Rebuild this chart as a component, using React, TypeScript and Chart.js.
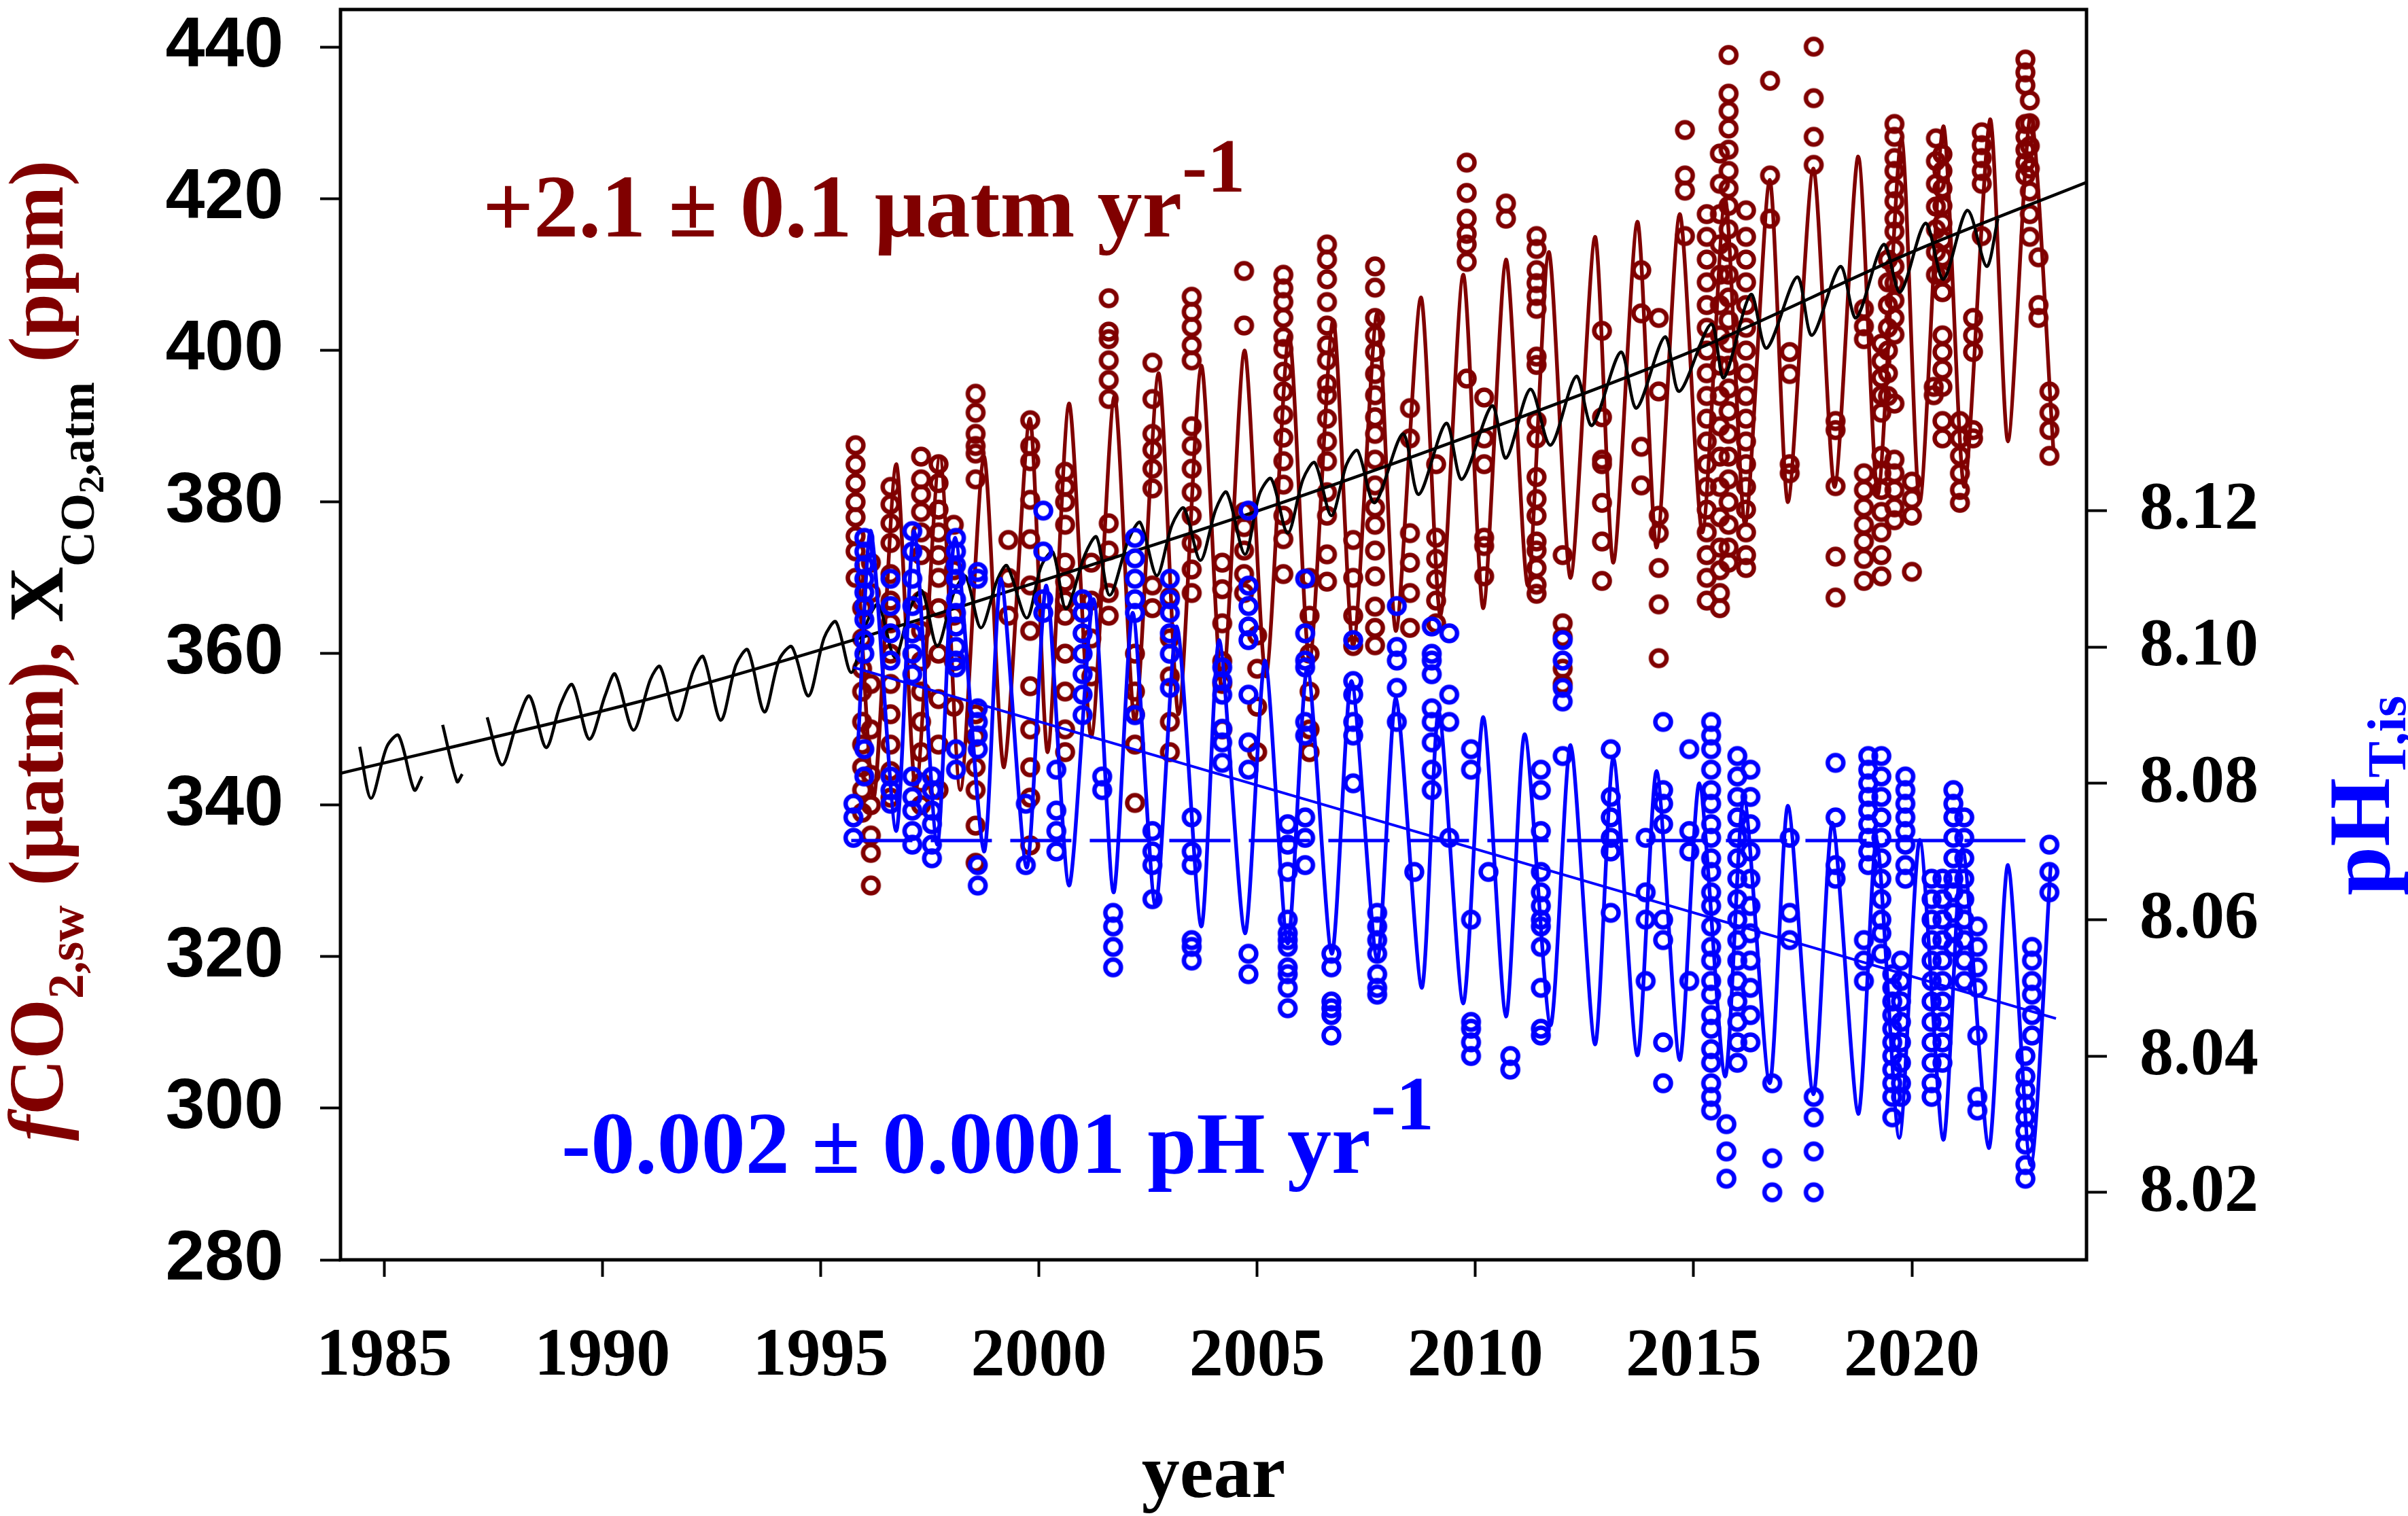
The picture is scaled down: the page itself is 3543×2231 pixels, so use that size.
import { useEffect, useRef } from "react";
import { Chart, registerables } from "chart.js";

Chart.register(...registerables);

const BROWN = "#800000";
const BLUE = "#0000ff";
const SERIF = '"Liberation Serif", "Times New Roman", serif';
const SANS = '"Liberation Sans", Arial, sans-serif';

// tick labels
const yearTicks = [1985, 1990, 1995, 2000, 2005, 2010, 2015, 2020];
const fco2Ticks = [280, 300, 320, 340, 360, 380, 400, 420, 440];
const phTicks = [8.02, 8.04, 8.06, 8.08, 8.1, 8.12];

// atmospheric xCO2 (ppm), seasonal record, null = gap
const xco2Seasonal: ([number, number] | null)[] = [
  [1984.44, 347.7], [1984.7, 340.9], [1985.06, 347.7], [1985.33, 349.2], [1985.69, 342.0], [1985.87, 343.8],
  null,
  [1986.34, 350.6], [1986.67, 343.1], [1986.79, 344.1],
  null,
  [1987.36, 351.6], [1987.7, 345.3], [1988.05, 351.0], [1988.33, 354.4], [1988.71, 347.6], [1989.04, 353.3],
  [1989.31, 355.9], [1989.7, 348.7], [1990.07, 354.6], [1990.29, 357.3], [1990.71, 349.9], [1991.1, 356.6],
  [1991.32, 358.3], [1991.71, 351.2], [1992.08, 357.7], [1992.31, 359.6], [1992.71, 351.2], [1993.06, 358.5],
  [1993.33, 360.5], [1993.71, 352.3], [1994.05, 359.2], [1994.34, 360.9], [1994.72, 354.4], [1995.08, 362.1],
  [1995.35, 364.2], [1995.7, 357.5], [1996.05, 364.0], [1996.32, 366.5], [1996.7, 359.5], [1997.05, 366.0],
  [1997.32, 368.3], [1997.67, 361.0], [1998.05, 368.0], [1998.32, 370.2], [1998.67, 363.4], [1999.05, 369.8],
  [1999.27, 371.6], [1999.72, 364.7], [2000.05, 371.5], [2000.32, 373.4], [2000.62, 365.9], [2001.05, 373.0],
  [2001.32, 375.4], [2001.62, 367.7], [2002.05, 375.0], [2002.32, 377.3], [2002.7, 370.3], [2003.05, 377.0],
  [2003.32, 379.2], [2003.7, 372.3], [2004.05, 379.0], [2004.3, 381.3], [2004.72, 373.1], [2005.05, 381.0],
  [2005.32, 383.1], [2005.7, 375.9], [2006.05, 383.0], [2006.32, 385.2], [2006.7, 378.2], [2007.05, 385.0],
  [2007.3, 386.8], [2007.69, 379.9], [2008.34, 389.0], [2008.7, 381.0], [2009.33, 390.4], [2009.69, 383.0],
  [2010.38, 392.7], [2010.7, 385.8], [2011.26, 394.9], [2011.72, 387.5], [2012.31, 396.6], [2012.67, 390.1],
  [2013.33, 399.8], [2013.69, 392.4], [2014.34, 401.8], [2014.67, 394.6], [2015.4, 403.5], [2015.69, 396.4],
  [2016.31, 407.4], [2016.67, 400.3], [2017.37, 409.7], [2017.71, 402.0], [2018.36, 411.1], [2018.72, 404.3],
  [2019.35, 414.0], [2019.73, 407.7], [2020.31, 416.8], [2020.72, 409.4], [2021.27, 418.5], [2021.71, 411.1],
  [2021.97, 417.4],
];

// deseasonalised xCO2 trend
const xco2Trend: [number, number][] = [
  [1984.0, 344.2], [1990.8, 353.6], [1995.75, 361.8], [2000, 369.5], [2005, 378.8],
  [2010, 389.0], [2015, 400.0], [2020, 413.0], [2024, 422.2],
];

// seawater fCO2 (µatm) observations per cruise: [year, values]
const fco2Samples: [number, number[]][] = [
  [1995.8, [387.5, 385, 382.5, 380, 378, 375.5, 373.5, 370]],
  [1995.95, [366, 362, 358, 355, 351, 348, 345, 342, 339]],
  [1996.15, [372, 368, 356, 350, 344, 340, 336, 333.7, 329.4]],
  [1996.6, [382, 379.7, 377.2, 374.6, 370.5, 367, 364, 360, 356, 352, 348, 344.5, 341]],
  [1997.3, [386, 383, 381, 378.7, 376, 373, 367, 363, 359, 355, 351, 347, 343, 340]],
  [1997.7, [385, 382.5, 379, 376, 373, 370, 366, 360, 354, 348, 342]],
  [1998.05, [377, 371, 365, 359, 353]],
  [1998.55, [394.3, 391.8, 389, 387.4, 386.4, 383, 352, 349, 345, 342, 337.3, 332.4]],
  [1999.3, [375, 370, 365]],
  [1999.8, [390.8, 387.4, 385.4, 380.3, 375.1, 369, 363, 355.7, 350, 345, 341, 334.7]],
  [2000.6, [384, 382, 380, 377, 372, 369.5, 367, 365, 360, 355, 350, 347]],
  [2001.2, [372, 367, 362, 357]],
  [2001.6, [406.9, 402.5, 401.5, 398.7, 396.1, 393.6, 377.2, 373.6, 368, 365]],
  [2002.2, [360, 355, 352, 348, 340.3]],
  [2002.6, [398.4, 393.6, 389, 386.9, 384.4, 381.8, 369, 366]],
  [2003.0, [367.5, 362, 357, 351, 347]],
  [2003.5, [407.1, 405.1, 403.1, 400.7, 398.7, 390, 387.4, 384.4, 381.3, 378.2, 374.6, 371.1, 368]],
  [2004.2, [372, 368.5, 364, 359, 356, 350]],
  [2004.7, [410.5, 403.3, 378.7, 376.7, 373.6, 370.5, 368]],
  [2005.0, [362.4, 358, 353, 347]],
  [2005.6, [410, 408.2, 406.4, 404.3, 401.8, 400.2, 397.2, 394.6, 391.5, 388.5, 385.4, 382.3, 378.2, 375.1, 370.5]],
  [2006.2, [370, 365, 360, 355, 350, 347]],
  [2006.6, [414, 412, 409.4, 406.4, 403.3, 400.7, 398.7, 395.6, 394.1, 391, 388, 385.4, 381.3, 378.2, 373.1, 369.5]],
  [2007.2, [375, 370, 365, 361]],
  [2007.7, [411.1, 408.3, 404.3, 402, 399.8, 396.9, 394.1, 391.2, 389, 385.6, 382.2, 379.3, 377, 373.6, 370.2, 366.2, 363.4, 361.1]],
  [2008.5, [392.4, 388.4, 375.9, 372, 368, 363.4]],
  [2009.1, [385, 375.3, 372.5, 369.8, 367, 364]],
  [2009.8, [424.8, 420.8, 417.4, 415.4, 414, 411.7, 396.3]],
  [2010.2, [393.8, 388.4, 385, 375.3, 374.2, 370.2]],
  [2010.7, [419.4, 417.4]],
  [2011.4, [415.1, 413.4, 410.6, 408.9, 407.2, 405.5, 399.2, 398.1, 390.7, 388.4, 383.3, 380.4, 378.2, 374.8, 373.6, 371.3, 369.1, 367.9]],
  [2012.0, [373, 364, 362.2, 358, 356]],
  [2012.9, [402.6, 391.2, 385.6, 385, 379.9, 374.8, 369.6]],
  [2013.8, [410.6, 404.9, 387.3, 382.2]],
  [2014.2, [404.3, 394.6, 378.2, 375.9, 371.3, 366.5, 359.4]],
  [2014.8, [429.1, 423.1, 421.1, 415.1]],
  [2015.3, [418, 415, 412, 409, 406, 403, 400, 397, 394, 391, 388, 385, 382, 379, 376, 373, 370, 367]],
  [2015.6, [426, 422, 418, 414, 410, 406, 402, 398, 394, 390, 386, 382, 378, 374, 371, 368, 366]],
  [2015.8, [439, 433.9, 431.6, 429.3, 426.5, 423.7, 421.4, 419.1, 416, 413, 410, 407, 404, 401, 398, 395, 392, 389, 386, 383, 380, 377, 374, 372]],
  [2016.2, [418.5, 415, 412, 409, 406, 403, 400, 397, 394, 391, 388, 385, 382, 379, 376, 373, 371.3]],
  [2016.75, [435.6, 423.1, 417.4]],
  [2017.2, [399.8, 396.9, 385, 383.8]],
  [2017.75, [440.1, 433.3, 428.2, 424.5]],
  [2018.25, [390.7, 389.5, 382.1, 372.8, 367.4]],
  [2018.9, [405.5, 403.2, 401.5, 383.8, 381.6, 379.3, 377, 374.8, 372.5, 369.6]],
  [2019.3, [400.9, 398.6, 396.4, 394.1, 391.8, 386.1, 383.8, 381.6, 378.7, 376, 373, 370.2]],
  [2019.45, [412, 409, 406, 403, 400, 397, 394]],
  [2019.6, [429.9, 428.2, 425.4, 423.7, 421.4, 419.7, 417.4, 415.7, 413.4, 411.1, 408.9, 406.6, 404.3, 402.1, 393, 385.6, 383.8, 381.6, 379.3, 377.6]],
  [2020.0, [382.7, 380.4, 378.2, 370.8]],
  [2020.5, [395.2, 394.1]],
  [2020.55, [428, 425, 422, 419, 416, 413, 410]],
  [2020.7, [425.9, 423.7, 421.4, 419.1, 416.8, 414.6, 412.3, 410, 407.7, 402, 399.8, 397.5, 395.2, 390.7, 388.4]],
  [2021.1, [390.7, 388.4, 386.1, 383.8, 381.6, 379.9]],
  [2021.4, [404.3, 402, 399.8, 389.5, 388.4]],
  [2021.6, [428.8, 427.1, 425.4, 423.7, 422, 415.1]],
  [2022.6, [438.4, 436.7, 435, 429.9, 428.2, 426.5, 424.8, 423.1]],
  [2022.7, [433, 430, 427, 424, 421, 418, 415]],
  [2022.9, [412.3, 406, 404.3]],
  [2023.15, [394.6, 391.8, 389.5, 386.1]],
];

// fitted seasonal fCO2 curve
const fco2Model: [number, number][] = [
  [1995.85, 372], [1996.22, 341], [1996.73, 385], [1997.18, 342], [1997.73, 386], [1998.2, 342],
  [1998.74, 386], [1999.2, 345], [1999.79, 391], [2000.2, 347], [2000.69, 393], [2001.2, 349],
  [2001.73, 394], [2002.2, 351], [2002.74, 397], [2003.2, 352], [2003.72, 398], [2004.2, 355],
  [2004.71, 400], [2005.2, 357], [2005.73, 402], [2006.2, 359], [2006.74, 404], [2007.2, 361],
  [2007.75, 405], [2008.18, 363], [2008.75, 407], [2009.2, 365], [2009.72, 410], [2010.18, 366],
  [2010.7, 412], [2011.2, 369], [2011.68, 413], [2012.18, 370], [2012.74, 415], [2013.16, 372],
  [2013.71, 417], [2014.15, 374], [2014.68, 418], [2015.2, 376], [2015.72, 420], [2016.18, 377],
  [2016.74, 422.5], [2017.16, 380], [2017.74, 424], [2018.23, 382], [2018.77, 425.6], [2019.22, 381],
  [2019.76, 428], [2020.18, 380], [2020.72, 429.6], [2021.2, 382], [2021.79, 430.5], [2022.2, 388],
  [2022.72, 431], [2023.24, 387],
];

// pH(T, in situ) observations per cruise: [year, values]
const phSamples: [number, number[]][] = [
  [1995.75, [8.077, 8.075, 8.072]],
  [1996.0, [8.116, 8.114, 8.112, 8.11, 8.108, 8.106, 8.104, 8.101, 8.099, 8.085, 8.081]],
  [1996.6, [8.11, 8.106, 8.102, 8.098, 8.081, 8.079, 8.077]],
  [1997.1, [8.117, 8.114, 8.11, 8.106, 8.102, 8.099, 8.096, 8.081, 8.078, 8.076, 8.073, 8.071]],
  [1997.55, [8.081, 8.079, 8.076, 8.074, 8.071, 8.069]],
  [1998.1, [8.116, 8.114, 8.112, 8.11, 8.107, 8.105, 8.103, 8.1, 8.098, 8.097, 8.085, 8.082]],
  [1998.6, [8.111, 8.11, 8.091, 8.089, 8.087, 8.085, 8.068, 8.065]],
  [1999.7, [8.077, 8.068]],
  [2000.1, [8.12, 8.114, 8.107, 8.105]],
  [2000.4, [8.082, 8.076, 8.073, 8.07]],
  [2001.0, [8.107, 8.105, 8.102, 8.099, 8.096, 8.093, 8.09]],
  [2001.45, [8.081, 8.079]],
  [2001.7, [8.061, 8.059, 8.056, 8.053]],
  [2002.2, [8.116, 8.113, 8.11, 8.107, 8.105, 8.09]],
  [2002.6, [8.073, 8.07, 8.068, 8.063]],
  [2003.0, [8.11, 8.107, 8.105, 8.102, 8.099, 8.094]],
  [2003.5, [8.075, 8.07, 8.068, 8.057, 8.056, 8.054]],
  [2004.2, [8.097, 8.095, 8.093, 8.088, 8.086, 8.083]],
  [2004.8, [8.12, 8.109, 8.106, 8.103, 8.101, 8.093, 8.086, 8.082, 8.055, 8.052]],
  [2005.7, [8.074, 8.071, 8.067, 8.06, 8.058, 8.057, 8.056, 8.053, 8.052, 8.05, 8.047]],
  [2006.1, [8.11, 8.102, 8.098, 8.097, 8.089, 8.087, 8.075, 8.072, 8.068]],
  [2006.7, [8.055, 8.053, 8.048, 8.047, 8.046, 8.043]],
  [2007.2, [8.101, 8.095, 8.093, 8.089, 8.087, 8.08]],
  [2007.75, [8.061, 8.059, 8.057, 8.055, 8.052, 8.05, 8.049]],
  [2008.2, [8.106, 8.1, 8.098, 8.094, 8.089]],
  [2008.6, [8.067]],
  [2009.0, [8.103, 8.099, 8.098, 8.096, 8.091, 8.089, 8.086, 8.082, 8.079]],
  [2009.4, [8.102, 8.093, 8.089, 8.072]],
  [2009.9, [8.085, 8.082, 8.06, 8.045, 8.044, 8.042, 8.04]],
  [2010.3, [8.067]],
  [2010.8, [8.04, 8.038]],
  [2011.5, [8.082, 8.079, 8.073, 8.067, 8.064, 8.062, 8.06, 8.059, 8.056, 8.05, 8.044, 8.043]],
  [2012.0, [8.101, 8.098, 8.094, 8.092, 8.084]],
  [2013.1, [8.085, 8.078, 8.075, 8.072, 8.07, 8.061]],
  [2013.9, [8.072, 8.064, 8.06, 8.051]],
  [2014.3, [8.089, 8.079, 8.077, 8.074, 8.06, 8.057, 8.042, 8.036]],
  [2014.9, [8.085, 8.073, 8.07, 8.051]],
  [2015.4, [8.089, 8.087, 8.085, 8.082, 8.079, 8.077, 8.074, 8.072, 8.069, 8.067, 8.064, 8.062, 8.059, 8.056, 8.054, 8.051, 8.049, 8.046, 8.044, 8.041, 8.039, 8.036, 8.034, 8.032]],
  [2015.75, [8.026, 8.022, 8.03]],
  [2016.0, [8.084, 8.081, 8.078, 8.075, 8.072, 8.069, 8.066, 8.063, 8.06, 8.057, 8.054, 8.051, 8.048, 8.045, 8.042, 8.039]],
  [2016.3, [8.082, 8.078, 8.074, 8.07, 8.066, 8.062, 8.058, 8.054, 8.05, 8.046, 8.042]],
  [2016.8, [8.036, 8.025, 8.02]],
  [2017.2, [8.072, 8.061, 8.057]],
  [2017.75, [8.034, 8.031, 8.026, 8.02]],
  [2018.25, [8.083, 8.075, 8.068, 8.066]],
  [2018.9, [8.057, 8.054, 8.051]],
  [2019.0, [8.084, 8.082, 8.08, 8.078, 8.076, 8.074, 8.072, 8.07, 8.068]],
  [2019.3, [8.084, 8.081, 8.078, 8.075, 8.072, 8.069, 8.066, 8.063, 8.06, 8.058, 8.055]],
  [2019.55, [8.052, 8.05, 8.048, 8.046, 8.044, 8.042, 8.04, 8.038, 8.036, 8.034, 8.031]],
  [2019.75, [8.054, 8.051, 8.048, 8.045, 8.042, 8.039, 8.036, 8.034]],
  [2019.85, [8.081, 8.079, 8.077, 8.075, 8.073, 8.071, 8.068, 8.066]],
  [2020.45, [8.066, 8.063, 8.06, 8.057, 8.054, 8.051, 8.048, 8.045, 8.042, 8.039, 8.036, 8.034]],
  [2020.7, [8.066, 8.063, 8.06, 8.057, 8.054, 8.051, 8.048, 8.045, 8.042, 8.039]],
  [2020.95, [8.079, 8.077, 8.075, 8.072, 8.069, 8.066, 8.064, 8.061, 8.058, 8.056]],
  [2021.2, [8.075, 8.072, 8.069, 8.066, 8.063, 8.06, 8.057, 8.054, 8.051]],
  [2021.5, [8.059, 8.056, 8.053, 8.05, 8.043, 8.034, 8.032]],
  [2022.6, [8.04, 8.037, 8.035, 8.033, 8.031, 8.029, 8.027, 8.024, 8.022]],
  [2022.75, [8.056, 8.054, 8.051, 8.049, 8.046, 8.043]],
  [2023.15, [8.071, 8.067, 8.064]],
];

// fitted seasonal pH curve
const phModel: [number, number][] = [
  [1995.85, 8.085], [1996.15, 8.117], [1996.73, 8.073], [1997.14, 8.117], [1997.67, 8.071], [1998.08, 8.116],
  [1998.74, 8.07], [1999.13, 8.11], [1999.72, 8.0676], [2000.17, 8.109], [2000.69, 8.065], [2001.25, 8.107],
  [2001.71, 8.064], [2002.15, 8.105], [2002.67, 8.062], [2003.16, 8.103], [2003.72, 8.059], [2004.13, 8.101],
  [2004.72, 8.058], [2005.18, 8.098], [2005.7, 8.0565], [2006.15, 8.097], [2006.71, 8.055], [2007.16, 8.095],
  [2007.75, 8.054], [2008.18, 8.0925], [2008.77, 8.05], [2009.16, 8.0906], [2009.72, 8.0477], [2010.18, 8.0897],
  [2010.7, 8.0458], [2011.13, 8.0872], [2011.72, 8.0445], [2012.18, 8.0856], [2012.74, 8.0417], [2013.16, 8.0837],
  [2013.71, 8.0401], [2014.15, 8.0818], [2014.68, 8.0394], [2015.13, 8.08], [2015.72, 8.037], [2016.15, 8.078],
  [2016.74, 8.036], [2017.16, 8.0767], [2017.74, 8.0344], [2018.18, 8.0742], [2018.77, 8.0315], [2019.19, 8.0717],
  [2019.71, 8.028], [2020.18, 8.0717], [2020.72, 8.0277], [2021.16, 8.0704], [2021.76, 8.0265], [2022.2, 8.068],
  [2022.72, 8.024], [2023.18, 8.068],
];

const phTrend: [number, number][] = [[1995.75, 8.097], [2023.3, 8.0455]];
const phMean: [number, number][] = [[1995.7, 8.0716], [2022.6, 8.0716]];

const toXY = (pts: [number, number][]) => pts.map(([x, y]) => ({ x, y }));
const samplesToXY = (s: [number, number[]][]) =>
  s.flatMap(([x, vals]) => vals.map((y) => ({ x, y })));

function ring(color: string) {
  const c = document.createElement("canvas");
  c.width = 38;
  c.height = 38;
  const g = c.getContext("2d")!;
  g.strokeStyle = color;
  g.lineWidth = 6.5;
  g.beginPath();
  g.arc(19, 19, 11.5, 0, Math.PI * 2);
  g.stroke();
  return c;
}

type Run = { text: string; size: number; color: string; dy?: number; italic?: boolean };

function drawRuns(ctx: CanvasRenderingContext2D, runs: Run[], x: number, y: number) {
  let cx = x;
  for (const r of runs) {
    ctx.font = `${r.italic ? "italic " : ""}bold ${r.size}px ${SERIF}`;
    ctx.fillStyle = r.color;
    ctx.fillText(r.text, cx, y + (r.dy ?? 0));
    cx += ctx.measureText(r.text).width;
  }
}

const labelsPlugin = {
  id: "labels",
  afterDatasetsDraw(chart: Chart) {
    const { ctx, chartArea } = chart;
    ctx.save();
    // frame
    ctx.strokeStyle = "#000";
    ctx.lineWidth = 5;
    ctx.strokeRect(chartArea.left, chartArea.top, chartArea.right - chartArea.left, chartArea.bottom - chartArea.top);

    ctx.textAlign = "left";
    ctx.textBaseline = "alphabetic";

    // in-plot rate annotations
    drawRuns(ctx, [
      { text: "+2.1 ± 0.1 μatm yr", size: 132, color: BROWN },
      { text: "-1", size: 112, color: BROWN, dy: -66 },
    ], 710, 348);
    drawRuns(ctx, [
      { text: "-0.002 ± 0.0001 pH yr", size: 130, color: BLUE },
      { text: "-1", size: 112, color: BLUE, dy: -64 },
    ], 826, 1726);

    // left axis title
    ctx.save();
    ctx.translate(92, 1679);
    ctx.rotate(-Math.PI / 2);
    drawRuns(ctx, [
      { text: "f", size: 114, color: BROWN, italic: true },
      { text: "CO", size: 114, color: BROWN },
      { text: "2,sw", size: 74, color: BROWN, dy: 30 },
      { text: " (μatm),", size: 114, color: BROWN },
      { text: " X", size: 114, color: "#000" },
      { text: "CO", size: 72, color: "#000", dy: 46 },
      { text: "2", size: 52, color: "#000", dy: 60 },
      { text: ",atm", size: 72, color: "#000", dy: 46 },
      { text: " (ppm)", size: 114, color: BROWN },
    ], 0, 0);
    ctx.restore();

    // right axis title
    ctx.save();
    ctx.translate(3515, 1318);
    ctx.rotate(-Math.PI / 2);
    drawRuns(ctx, [
      { text: "pH", size: 130, color: BLUE },
      { text: "T,is", size: 80, color: BLUE, dy: 24 },
    ], 0, 0);
    ctx.restore();

    // x axis title
    ctx.font = `bold 112px ${SERIF}`;
    ctx.fillStyle = "#000";
    ctx.textAlign = "center";
    ctx.fillText("year", (chartArea.left + chartArea.right) / 2, 2203);
    ctx.restore();
  },
};

export default function App() {
  const canvasRef = useRef<HTMLCanvasElement>(null);
  const chartRef = useRef<Chart | null>(null);

  useEffect(() => {
    document.body.style.margin = "0";
    if (!canvasRef.current) return;
    if (chartRef.current) chartRef.current.destroy();

    const brownRing = ring(BROWN);
    const blueRing = ring(BLUE);
    const tickGrid = { drawOnChartArea: false, drawTicks: true, tickLength: 30, tickWidth: 4, tickColor: "#000" };
    const noPad = (s: any) => {
      s.paddingTop = 0;
      s.paddingBottom = 0;
      s.paddingLeft = 0;
      s.paddingRight = 0;
    };

    chartRef.current = new Chart(canvasRef.current, {
      type: "line",
      data: {
        datasets: [
          {
            label: "pH mean",
            data: toXY(phMean),
            yAxisID: "y2",
            borderColor: BLUE,
            borderWidth: 5,
            borderDash: [90, 27],
            pointRadius: 0,
            order: 1,
          },
          {
            label: "pH trend",
            data: toXY(phTrend),
            yAxisID: "y2",
            borderColor: BLUE,
            borderWidth: 4,
            pointRadius: 0,
            order: 2,
          },
          {
            label: "pH fit",
            data: toXY(phModel),
            yAxisID: "y2",
            borderColor: BLUE,
            borderWidth: 5.5,
            pointRadius: 0,
            tension: 0.25,
            order: 3,
          },
          {
            label: "pH obs",
            data: samplesToXY(phSamples),
            yAxisID: "y2",
            showLine: false,
            pointStyle: blueRing,
            pointRadius: 13,
            order: 4,
          },
          {
            label: "xCO2 trend",
            data: toXY(xco2Trend),
            yAxisID: "y",
            borderColor: "#000",
            borderWidth: 4.5,
            pointRadius: 0,
            tension: 0.3,
            order: 5,
          },
          {
            label: "xCO2",
            data: xco2Seasonal.map((p, i) =>
              p ? { x: p[0], y: p[1] } : { x: (xco2Seasonal[i - 1] as [number, number])[0] + 0.1, y: null }
            ),
            yAxisID: "y",
            borderColor: "#000",
            borderWidth: 4.5,
            pointRadius: 0,
            tension: 0.3,
            spanGaps: false,
            order: 6,
          },
          {
            label: "fCO2 fit",
            data: toXY(fco2Model),
            yAxisID: "y",
            borderColor: BROWN,
            borderWidth: 5.5,
            pointRadius: 0,
            tension: 0.25,
            order: 7,
          },
          {
            label: "fCO2 obs",
            data: samplesToXY(fco2Samples),
            yAxisID: "y",
            showLine: false,
            pointStyle: brownRing,
            pointRadius: 13,
            order: 8,
          },
        ] as any,
      },
      options: {
        animation: false,
        responsive: false,
        devicePixelRatio: 1,
        layout: { padding: { top: 3, left: 0, right: 0, bottom: 0 } },
        plugins: { legend: { display: false }, tooltip: { enabled: false } },
        scales: {
          x: {
            type: "linear",
            position: "bottom",
            min: 1984,
            max: 2024,
            afterBuildTicks: (s: any) => {
              s.ticks = yearTicks.map((value) => ({ value }));
            },
            afterFit: (s: any) => {
              s.height = 377;
              noPad(s);
            },
            ticks: {
              autoSkip: false,
              maxRotation: 0,
              padding: 58,
              color: "#000",
              font: { family: SERIF, weight: "bold", size: 100 },
              callback: (v: any) => String(v),
            },
            grid: { ...tickGrid, tickLength: 25 },
            border: { display: false },
          },
          y: {
            type: "linear",
            position: "left",
            min: 280,
            max: 445,
            afterBuildTicks: (s: any) => {
              s.ticks = fco2Ticks.map((value) => ({ value }));
            },
            afterFit: (s: any) => {
              s.width = 501;
              noPad(s);
            },
            ticks: {
              padding: 54,
              color: "#000",
              font: { family: SANS, weight: "bold", size: 104 },
              callback: (v: any) => String(v),
            },
            grid: tickGrid,
            border: { display: false },
          },
          y2: {
            type: "linear",
            position: "right",
            min: 8.0101,
            max: 8.1935,
            afterBuildTicks: (s: any) => {
              s.ticks = phTicks.map((value) => ({ value }));
            },
            afterFit: (s: any) => {
              s.width = 473;
              noPad(s);
            },
            ticks: {
              padding: 48,
              color: "#000",
              font: { family: SERIF, weight: "bold", size: 100 },
              callback: (v: any) => Number(v).toFixed(2),
            },
            grid: tickGrid,
            border: { display: false },
          },
        },
      },
      plugins: [labelsPlugin],
    });

    return () => {
      if (chartRef.current) {
        chartRef.current.destroy();
        chartRef.current = null;
      }
    };
  }, []);

  return (
    <div style={{ width: 3543, height: 2231, overflow: "hidden", background: "#fff" }}>
      <canvas ref={canvasRef} width={3543} height={2231} style={{ display: "block" }} />
    </div>
  );
}
